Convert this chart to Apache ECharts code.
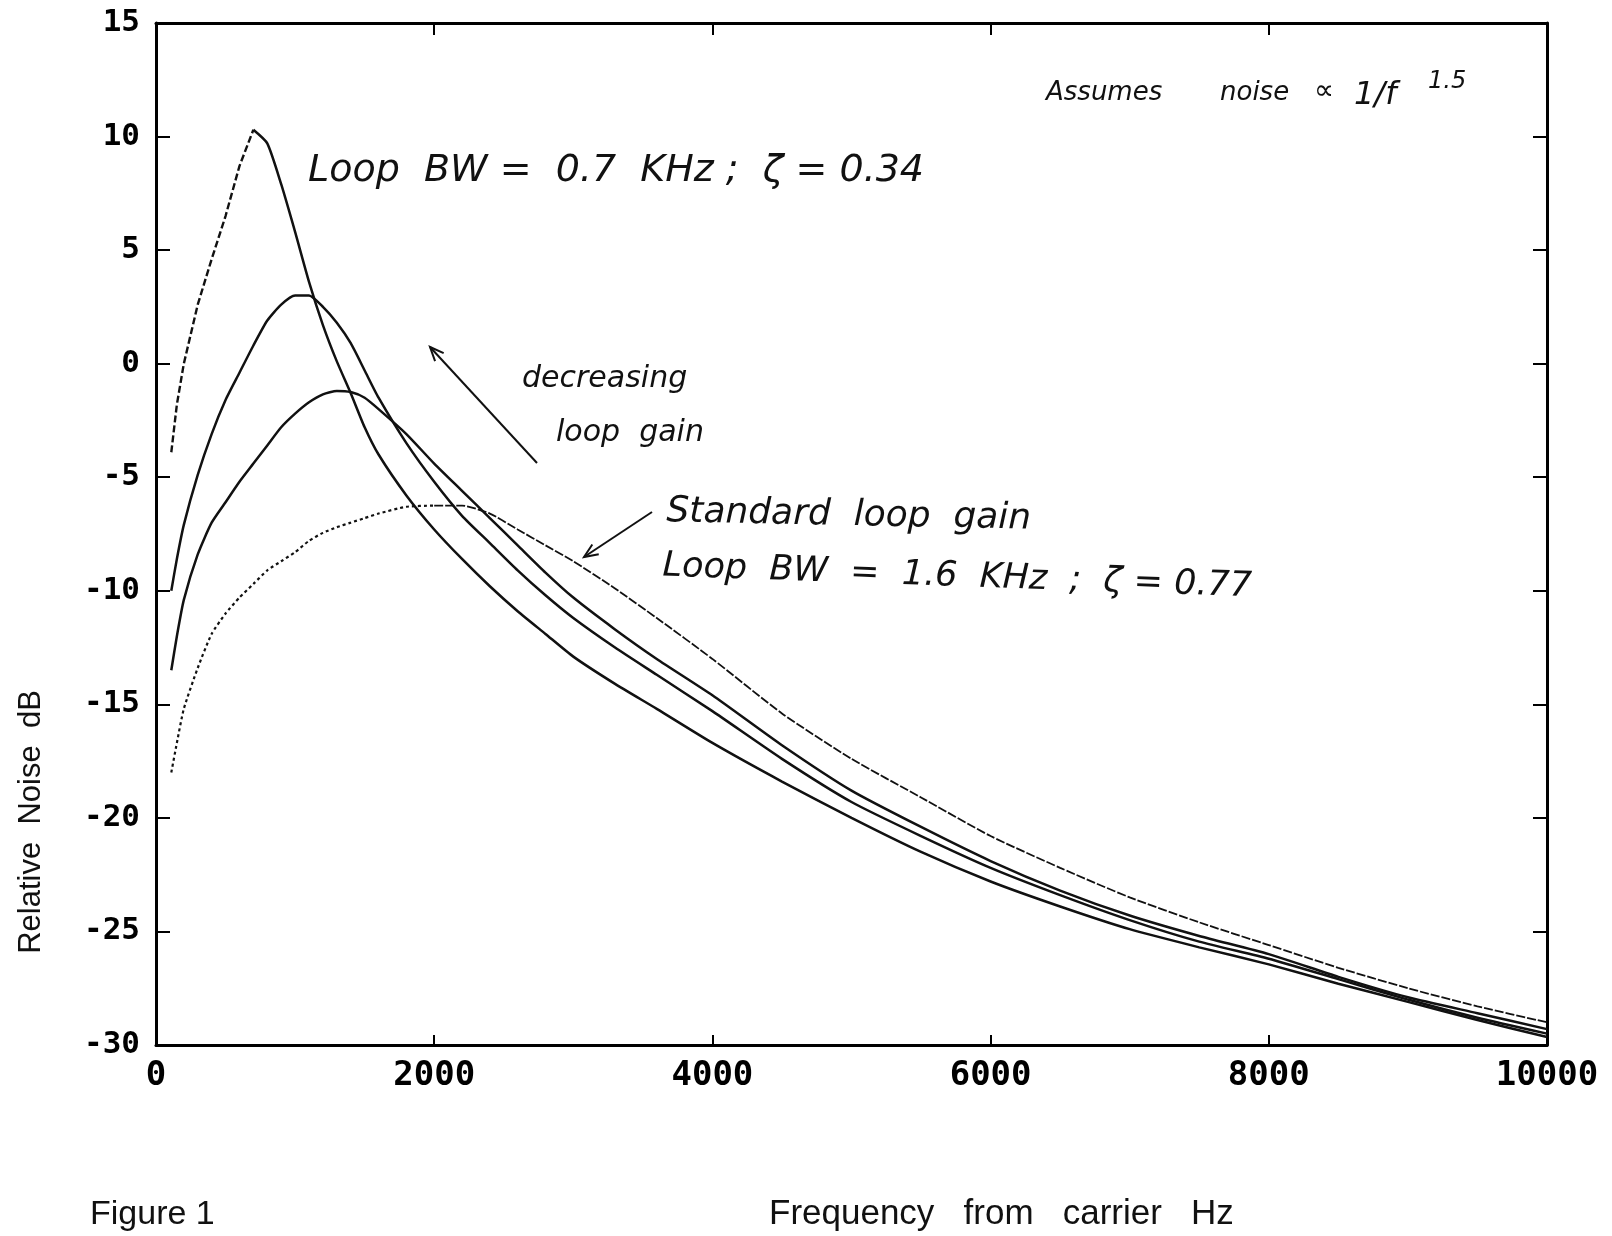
<!DOCTYPE html>
<html lang="en">
  <head>
    <meta charset="UTF-8" />
    <title>Relative Noise vs Frequency</title>
    <script src="https://cdn.jsdelivr.net/npm/echarts@6/dist/echarts.min.js"></script>
  </head>
  <body style="margin:0;background:#fff">
    <div id="main" style="width:1612px;height:1236px"></div>
    <script type="text/javascript">
      // frequency offset from carrier (Hz), shared by all four curves
      const freq = [110, 150, 200, 300, 400, 500, 600, 700, 800, 900,
        1000, 1100, 1200, 1300, 1400, 1500, 1600, 1800, 2000, 2200,
        2400, 2600, 2800, 3000, 3300, 3600, 4000, 4500, 5000, 5500,
        6000, 6500, 7000, 7500, 8000, 8500, 9000, 9500, 10000];

      // loop BW 0.7 kHz (lowest loop gain)
      const dbA = [-3.9, -1.8, 0.0, 2.6, 4.6, 6.5, 8.7, 10.3, 9.7, 7.9,
        5.8, 3.6, 1.7, 0.1, -1.3, -2.8, -4.0, -5.8, -7.3, -8.6,
        -9.8, -10.9, -11.9, -12.9, -14.1, -15.2, -16.7, -18.4, -20.0, -21.5,
        -22.8, -23.9, -24.9, -25.7, -26.45, -27.3, -28.1, -28.9, -29.65];
      const dbB = [-10.0, -8.6, -7.1, -4.9, -3.1, -1.6, -0.4, 0.8, 1.9, 2.6,
        3.0, 3.0, 2.5, 1.8, 0.9, -0.3, -1.5, -3.5, -5.2, -6.7,
        -7.9, -9.1, -10.2, -11.2, -12.5, -13.7, -15.3, -17.4, -19.3, -20.8,
        -22.2, -23.4, -24.5, -25.45, -26.2, -27.1, -28.0, -28.8, -29.5];
      const dbC = [-13.5, -12.0, -10.4, -8.4, -7.0, -6.1, -5.2, -4.4, -3.6, -2.8,
        -2.2, -1.7, -1.35, -1.2, -1.25, -1.5, -2.0, -3.1, -4.4, -5.6,
        -6.8, -8.0, -9.2, -10.3, -11.7, -13.0, -14.6, -16.8, -18.8, -20.4,
        -21.9, -23.2, -24.3, -25.2, -26.0, -27.0, -27.9, -28.6, -29.3];
      // standard loop gain, loop BW 1.6 kHz
      const dbD = [-18.0, -16.7, -15.2, -13.4, -11.9, -11.0, -10.3, -9.7, -9.1, -8.7,
        -8.3, -7.8, -7.45, -7.2, -7.0, -6.8, -6.6, -6.3, -6.25, -6.25,
        -6.6, -7.3, -8.0, -8.7, -9.9, -11.2, -13.0, -15.4, -17.4, -19.1,
        -20.8, -22.2, -23.5, -24.6, -25.6, -26.6, -27.5, -28.3, -29.0];

      const xTicks = { min: 0, max: 10000, step: 2000 };
      const yTicks = { min: -30, max: 15, step: 5 };

      const pairs = (ys) => freq.map((f, i) => [f, ys[i]]);
      const peakIdx = (ys) => ys.indexOf(Math.max(...ys));

      const ink = '#111';
      const tickFont = 'DejaVu Sans Mono';
      const handFont = (s) => 'italic 300 ' + s + 'px "DejaVu Sans"';

      function lineSeries(data, width, type, smooth) {
        return {
          type: 'line', data: data, showSymbol: false, silent: true,
          smooth: smooth,
          lineStyle: { color: ink, width: width, type: type },
          z: 3
        };
      }

      const aData = pairs(dbA);
      const dData = pairs(dbD);
      const aPk = peakIdx(dbA);
      const dPk = peakIdx(dbD);

      function axis(extra) {
        return Object.assign({
          type: 'value',
          axisLine: { onZero: false, lineStyle: { color: '#000', width: 3 } },
          splitLine: { show: false }
        }, extra);
      }

      function text(t, x, y, size, rot) {
        return {
          type: 'text', x: x, y: y, rotation: rot || 0,
          style: { text: t, font: handFont(size), fill: ink, textVerticalAlign: 'bottom' }
        };
      }
      function arrow(x1, y1, x2, y2) {
        const a = Math.atan2(y1 - y2, x1 - x2), h = 15;
        return [
          { type: 'line', shape: { x1: x1, y1: y1, x2: x2, y2: y2 }, style: { stroke: ink, lineWidth: 2 } },
          { type: 'polyline', shape: { points: [
              [x2 + h * Math.cos(a + 0.4), y2 + h * Math.sin(a + 0.4)], [x2, y2],
              [x2 + h * Math.cos(a - 0.4), y2 + h * Math.sin(a - 0.4)]] },
            style: { stroke: ink, lineWidth: 2, fill: null } }
        ];
      }

      const tickStyle = { color: '#000', width: 2 };

      let myChart = echarts.init(document.getElementById('main'));
      myChart.setOption({
        backgroundColor: '#fff',
        animation: false,
        grid: { left: 156, right: 65, top: 23, bottom: 191 },
        xAxis: [
          axis({
            position: 'bottom', min: xTicks.min, max: xTicks.max, interval: xTicks.step,
            axisTick: { inside: true, length: 10, lineStyle: tickStyle },
            axisLabel: { fontFamily: tickFont, fontWeight: 'bold', fontSize: 34, color: '#000', margin: 14,
              formatter: (v) => String(v) }
          }),
          axis({
            position: 'top', min: xTicks.min, max: xTicks.max, interval: xTicks.step,
            axisTick: { inside: true, length: 12, lineStyle: tickStyle },
            axisLabel: { show: false }
          })
        ],
        yAxis: [
          axis({
            position: 'left', min: yTicks.min, max: yTicks.max, interval: yTicks.step,
            axisTick: { inside: true, length: 14, lineStyle: tickStyle },
            axisLabel: { fontFamily: tickFont, fontWeight: 'bold', fontSize: 31, color: '#000', margin: 16 }
          }),
          axis({
            position: 'right', min: yTicks.min, max: yTicks.max, interval: yTicks.step,
            axisTick: { inside: true, length: 14, lineStyle: tickStyle },
            axisLabel: { show: false }
          })
        ],
        series: [
          lineSeries(aData.slice(0, aPk + 1), 2.4, [7, 3], false),
          lineSeries(aData.slice(aPk), 2.5, 'solid', 0.2),
          lineSeries(pairs(dbB), 2.5, 'solid', 0.2),
          lineSeries(pairs(dbC), 2.5, 'solid', 0.2),
          lineSeries(dData.slice(0, dPk + 1), 2.2, [3, 3], 0.2),
          lineSeries(dData.slice(dPk), 1.8, [9, 2], 0.2)
        ],
        graphic: [
          text('Assumes', 1046, 106, 26),
          text('noise', 1220, 106, 26),
          text('\u221D', 1314, 106, 28),
          text('1/f', 1354, 112, 32),
          text('1.5', 1428, 94, 24),
          text('Loop  BW =  0.7  KHz ;  \u03B6 = 0.34', 308, 190, 38),
          text('decreasing', 522, 394, 30),
          text('loop  gain', 556, 448, 30),
          text('Standard  loop  gain', 666, 530, 36, -0.02),
          text('Loop  BW  =  1.6  KHz  ;  \u03B6 = 0.77', 662, 584, 35, -0.035),
          ...arrow(537, 463, 430, 347),
          ...arrow(652, 512, 584, 557),
          {
            type: 'text', x: 31, y: 822, rotation: Math.PI / 2,
            style: { text: 'Relative  Noise  dB', font: '31px "Liberation Sans"', fill: ink,
              textAlign: 'center', textVerticalAlign: 'middle' }
          },
          {
            type: 'text', x: 90, y: 1215,
            style: { text: 'Figure 1', font: '34px "Liberation Sans"', fill: ink, textVerticalAlign: 'middle' }
          },
          {
            type: 'text', x: 769, y: 1214,
            style: { text: 'Frequency   from   carrier   Hz', font: '35px "Liberation Sans"', fill: ink, textVerticalAlign: 'middle' }
          }
        ]
      });
    </script>
  </body>
</html>
